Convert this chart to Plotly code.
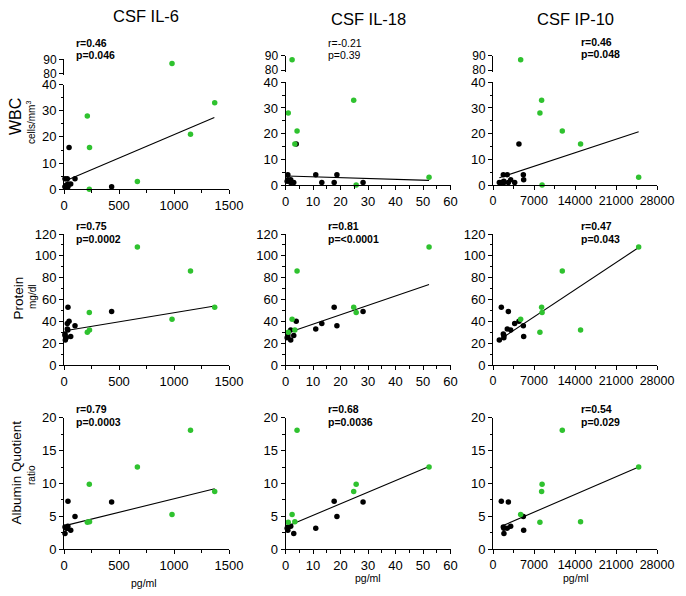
import plotly.graph_objects as go

W, H = 686, 596

# ---------------- data ----------------
columns = ["CSF IL-6", "CSF IL-18", "CSF IP-10"]
row_labels = ["WBC", "Protein", "Albumin Quotient"]
row_units = ["cells/mm<sup>3</sup>", "mg/dl", "ratio"]

# green group
green_il6 = [667, 1150, 1370, 230, 982, 232, 212]
green_il18 = [52.2, 4.2, 24.8, 25.7, 2.4, 3.4, 1.0]
green_ip10 = [24870, 11830, 8300, 8380, 4720, 14950, 8010]
green_wbc = [3, 21, 33, 0, 87, 16, 28]
green_prot = [108, 86, 53, 48, 42, 32, 30]
green_aq = [12.5, 18.1, 8.8, 9.9, 5.3, 4.2, 4.1]

# black group
black_il6 = [36, 433, 30, 100, 30, 46, 35, 61, 12, 9, 9, 20]
black_il18 = [17.7, 28.2, 13.2, 18.7, 11, 3.9, 1.9, 0.85, 1.9, 3.0, 0.85, 0.6]
black_ip10 = [1420, 2620, 3700, 5180, 2440, 4430, 3016, 5236, 1080, 1870, 1760, 1850]
black_wbc = [1, 1, 1, 4, 4, 16, 2, 2, 1, 1, 4, 1.5]
black_prot = [53, 49, 38, 36, 33, 40, 32, 26, 23, 27, 28.5, 25]
black_aq = [7.3, 7.2, None, 5.0, 3.2, None, 3.5, 2.9, None, 2.4, 3.4, 3.2]

# regression lines (start / end) per row, col
fit_x0 = [[9, 0.5, 1080], [9, 0.6, 1080], [9, 0.6, 1420]]
fit_x1 = [[1367, 52.2, 24870], [1370, 52.2, 24870], [1370, 52.2, 24870]]
fit_y0 = [[3.2, 3.5, 2.8], [31.3, 29.4, 23.0], [3.6, 3.5, 3.5]]
fit_y1 = [[27.4, 1.8, 20.7], [54.0, 73.7, 107.6], [9.2, 12.6, 12.5]]

stats_r = [["r=0.46", "r=-0.21", "r=0.46"],
           ["r=0.75", "r=0.81", "r=0.47"],
           ["r=0.79", "r=0.68", "r=0.54"]]
stats_p = [["p=0.046", "p=0.39", "p=0.048"],
           ["p=0.0002", "p=<0.0001", "p=0.043"],
           ["p=0.0003", "p=0.0036", "p=0.029"]]
stats_bold = [[True, False, True], [True, True, True], [True, True, True]]

x_ranges = [[0, 1500], [0, 60], [0, 28000]]
x_dticks = [500, 10, 7000]
y_ranges = [[0, 40], [0, 120], [0, 20]]
y_dticks = [10, 20, 5]
upper_range = [78.5, 90]
upper_ticks = [80, 90]
break_threshold = 60

# ---------------- styling / geometry ----------------
GREEN = "#2fc22f"
FONT = "Arial, Liberation Sans, sans-serif"

col_px = [(64, 229), (285.5, 450.5), (493, 657)]
row_px = [[(84.5, 189.3), (82.3, 185), (82.3, 185)],
          [(234, 365), (234, 365), (234, 365)],
          [(417.7, 549.3), (417.7, 549.3), (417.7, 549.3)]]
upper_px = [(59.3, 75.4), (55.5, 72.2), (55.5, 72.2)]


def px_x(v):
    return v / W


def px_y(v):
    return 1 - v / H


def ydom(a, b):
    return [px_y(b), px_y(a)]


xs_green = [green_il6, green_il18, green_ip10]
xs_black = [black_il6, black_il18, black_ip10]
ys_green = [green_wbc, green_prot, green_aq]
ys_black = [black_wbc, black_prot, black_aq]

fig = go.Figure()
layout = dict()

tickfont = dict(family=FONT, size=13, color="black")


def axis_common():
    return dict(showline=True, linecolor="black", linewidth=1,
                ticks="outside", ticklen=4, tickwidth=1, tickcolor="black",
                showgrid=False, zeroline=False, tickfont=tickfont,
                tickformat="d", automargin=False)


def pts(xv, yv, upper=None):
    ox, oy = [], []
    for a, b in zip(xv, yv):
        if b is None:
            continue
        if upper is True and b < break_threshold:
            continue
        if upper is False and b >= break_threshold:
            continue
        ox.append(a)
        oy.append(b)
    return ox, oy


for r in range(3):
    for c in range(3):
        n = r * 3 + c + 1
        xa = "x" if n == 1 else f"x{n}"
        ya = "y" if n == 1 else f"y{n}"
        xkey = "xaxis" if n == 1 else f"xaxis{n}"
        ykey = "yaxis" if n == 1 else f"yaxis{n}"

        xax = axis_common()
        xax.update(domain=[px_x(col_px[c][0]), px_x(col_px[c][1])],
                   range=x_ranges[c], dtick=x_dticks[c], tick0=0,
                   anchor=ya,
                   minor=dict(dtick=x_dticks[c] / 2, ticks="outside",
                              ticklen=2.5, tickcolor="black", showgrid=False))
        if c == 2:
            xax["tickfont"] = dict(family=FONT, size=12.5, color="black")
        layout[xkey] = xax

        yax = axis_common()
        yax.update(domain=ydom(*row_px[r][c]), range=y_ranges[r],
                   dtick=y_dticks[r], tick0=0, anchor=xa,
                   minor=dict(dtick=y_dticks[r] / 2, ticks="outside",
                              ticklen=2.5, tickcolor="black", showgrid=False))
        layout[ykey] = yax

        upper_flag = False if r == 0 else None
        # regression line
        fig.add_trace(go.Scatter(x=[fit_x0[r][c], fit_x1[r][c]],
                                 y=[fit_y0[r][c], fit_y1[r][c]],
                                 mode="lines", line=dict(color="black", width=1.1),
                                 xaxis=xa, yaxis=ya, showlegend=False,
                                 hoverinfo="skip"))
        for xv_all, yv_all, col in ((xs_black, ys_black, "black"),
                                    (xs_green, ys_green, GREEN)):
            px_, py_ = pts(xv_all[c], yv_all[r], upper_flag)
            fig.add_trace(go.Scatter(x=px_, y=py_, mode="markers",
                                     marker=dict(color=col, size=5.5),
                                     xaxis=xa, yaxis=ya, cliponaxis=False,
                                     showlegend=False))
        if r == 0:
            un = 10 + c
            uya = f"y{un}"
            ukey = f"yaxis{un}"
            uax = axis_common()
            uax.update(domain=ydom(*upper_px[c]), range=upper_range,
                       tickvals=upper_ticks, anchor=xa,
                       tickfont=dict(family=FONT, size=12, color="black"))
            layout[ukey] = uax
            for xv_all, yv_all, col in ((xs_black, ys_black, "black"),
                                        (xs_green, ys_green, GREEN)):
                px_, py_ = pts(xv_all[c], yv_all[r], True)
                if px_:
                    fig.add_trace(go.Scatter(x=px_, y=py_, mode="markers",
                                             marker=dict(color=col, size=5.5),
                                             xaxis=xa, yaxis=uya,
                                             cliponaxis=False,
                                             showlegend=False))

annotations = []
# column titles
title_px = [(146, 16.3), (368, 19.2), (575.5, 19.2)]
for c in range(3):
    annotations.append(dict(text=columns[c], x=px_x(title_px[c][0]),
                            y=px_y(title_px[c][1]), xref="paper", yref="paper",
                            xanchor="center", yanchor="middle", showarrow=False,
                            font=dict(family=FONT, size=16.5, color="black")))

# row labels
row_label_px = [(16, 117, 16), (17.5, 298, 13.5), (16, 472.5, 13.5)]
row_unit_px = [(31, 123), (32, 297), (31, 475)]
for r in range(3):
    lx, ly, fs = row_label_px[r]
    annotations.append(dict(text=row_labels[r], x=px_x(lx), y=px_y(ly),
                            xref="paper", yref="paper", xanchor="center",
                            yanchor="middle", textangle=-90, showarrow=False,
                            font=dict(family=FONT, size=fs, color="black")))
    ux, uy = row_unit_px[r]
    annotations.append(dict(text=row_units[r], x=px_x(ux), y=px_y(uy),
                            xref="paper", yref="paper", xanchor="center",
                            yanchor="middle", textangle=-90, showarrow=False,
                            font=dict(family=FONT, size=10, color="black")))

# stats
stat_x = [74, 325.5, 579]
stat_y = [[(43, 54.5), (43, 54.5), (42, 54)],
          [(226, 239.5), (226, 239.5), (226, 239.5)],
          [(409, 422), (409, 422), (409, 422)]]
for r in range(3):
    for c in range(3):
        for txt, yy in ((stats_r[r][c], stat_y[r][c][0]),
                        (stats_p[r][c], stat_y[r][c][1])):
            t = f"<b>{txt}</b>" if stats_bold[r][c] else txt
            annotations.append(dict(text=t, x=px_x(stat_x[c]), y=px_y(yy),
                                    xref="paper", yref="paper", xanchor="left",
                                    yanchor="middle", showarrow=False,
                                    font=dict(family=FONT, size=10.5,
                                              color="black")))

# x axis titles
xt_px = [(144, 583), (367.5, 577.5), (575.5, 577.5)]
for c in range(3):
    annotations.append(dict(text="pg/ml", x=px_x(xt_px[c][0]),
                            y=px_y(xt_px[c][1]), xref="paper", yref="paper",
                            xanchor="center", yanchor="middle", showarrow=False,
                            font=dict(family=FONT, size=10.5, color="black")))

fig.update_layout(template="none", width=W, height=H,
                  margin=dict(l=0, r=0, t=0, b=0, pad=0, autoexpand=False),
                  paper_bgcolor="white", plot_bgcolor="white",
                  showlegend=False, annotations=annotations, **layout)

fig.write_html("out.html", config={"displayModeBar": False},
               post_script="document.body.style.margin='0px';"
                           "document.body.style.overflow='hidden';")
